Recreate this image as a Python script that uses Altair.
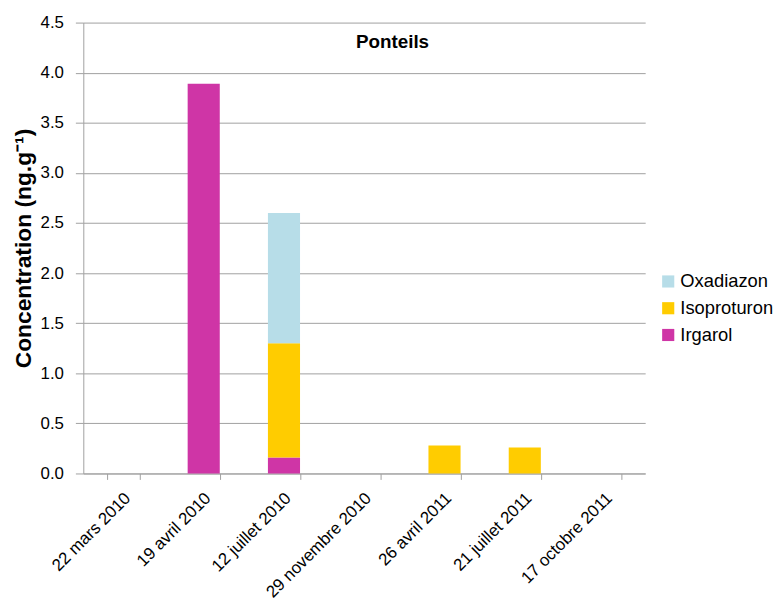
import altair as alt
import pandas as pd

dates = ["22 mars 2010", "19 avril 2010", "12 juillet 2010", "29 novembre 2010",
         "26 avril 2011", "21 juillet 2011", "17 octobre 2011"]
irgarol = [0, 3.89, 0.16, 0, 0, 0, 0]
isoproturon = [0, 0, 1.14, 0, 0.28, 0.26, 0]
oxadiazon = [0, 0, 1.30, 0, 0, 0, 0]
series = ["Oxadiazon", "Isoproturon", "Irgarol"]
colors = ["#B7DDE8", "#FFCC00", "#CF35A6"]
stack_rank = {"Irgarol": 0, "Isoproturon": 1, "Oxadiazon": 2}

rows = []
for i, d in enumerate(dates):
    for name, vals in (("Irgarol", irgarol), ("Isoproturon", isoproturon), ("Oxadiazon", oxadiazon)):
        rows.append({"date": d, "compound": name, "value": vals[i], "rank": stack_rank[name]})
df = pd.DataFrame(rows)

FONT = "Liberation Sans"

bars = alt.Chart(df).mark_bar().encode(
    x=alt.X("date:N", sort=dates, title=None,
            scale=alt.Scale(paddingInner=0.6, paddingOuter=0.3),
            axis=alt.Axis(labelAngle=-45, labelAlign="right", labelBaseline="middle",
                          labelFontSize=17, labelColor="#000000", labelFont=FONT,
                          domainColor="#A0A0A0", tickColor="#A0A0A0", tickSize=6,
                          tickBand="extent", labelPadding=16, labelOffset=4, grid=False)),
    y=alt.Y("value:Q", title="Concentration (ng.g⁻¹)",
            scale=alt.Scale(domain=[0, 4.5], nice=False),
            axis=alt.Axis(values=[0, 0.5, 1, 1.5, 2, 2.5, 3, 3.5, 4, 4.5], format=".1f",
                          labelFontSize=17, labelColor="#000000", labelFont=FONT,
                          labelPadding=12,
                          titleFontSize=23, titleFont=FONT, titleFontWeight="bold",
                          titleColor="#000000", titlePadding=5,
                          domainColor="#A0A0A0", tickColor="#A0A0A0", tickSize=8,
                          gridColor="#A0A0A0", gridWidth=1)),
    color=alt.Color("compound:N", scale=alt.Scale(domain=series, range=colors),
                    legend=alt.Legend(title=None, orient="none", legendX=581, legendY=252,
                                      symbolType="square", symbolSize=150, symbolStrokeWidth=0,
                                      labelFontSize=18.5, labelFont=FONT, labelColor="#000000",
                                      rowPadding=8, labelOffset=3)),
    order=alt.Order("rank:Q", sort="ascending"),
)

title = alt.Chart(pd.DataFrame({"t": ["Ponteils"]})).mark_text(
    fontSize=19, fontWeight="bold", font=FONT, color="#000000", baseline="alphabetic"
).encode(text="t:N", x=alt.value(312), y=alt.value(26))

chart = alt.layer(bars, title).properties(
    width=567, height=455, padding={"top": 3, "left": 4, "right": 0, "bottom": 0}
).configure_view(stroke=None)

chart.save("out.html", embed_options={"renderer": "svg", "actions": False})
